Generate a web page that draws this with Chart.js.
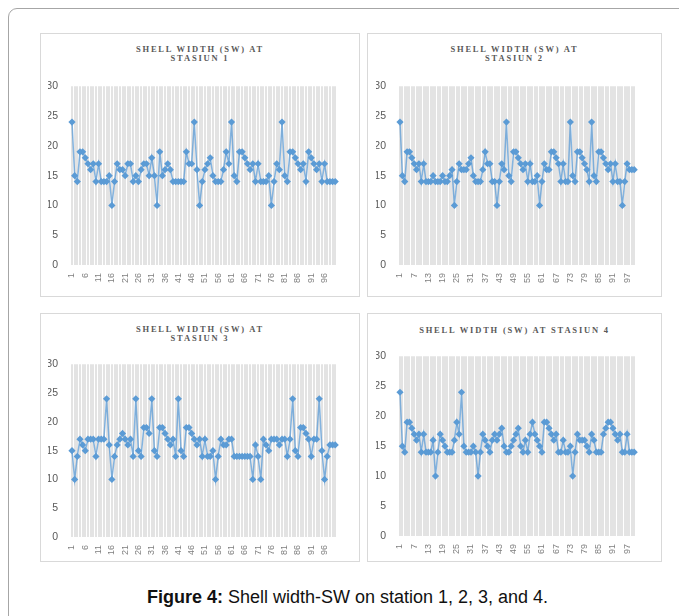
<!DOCTYPE html>
<html>
<head>
<meta charset="utf-8">
<script src="https://cdn.jsdelivr.net/npm/chart.js@4"></script>
<style>
  body { margin: 0; width: 679px; height: 616px; background: #fff; position: relative; overflow: hidden; font-family: "Liberation Sans", Arial, sans-serif; }
  .frame { position: absolute; left: 8px; top: 8px; width: 700px; height: 640px; border: 1px solid #a6a6a6; border-radius: 9px; }
  .panel { position: absolute; border: 1px solid #d9d9d9; background: #fff; }
  .title { position: absolute; left: 0; right: 0; text-align: center; font-family: "Liberation Serif", "DejaVu Serif", serif; font-size: 8.5px; line-height: 9px; letter-spacing: 1.8px; color: #595959; font-weight: bold; }
  canvas { position: absolute; }
  .caption { position: absolute; left: 0; width: 695px; top: 587px; text-align: center; font-size: 18px; color: #111; }
</style>
</head>
<body>
<div class="frame"></div>

<div class="panel" style="left:40px;top:33px;width:318px;height:262px;"><div class="title" style="top:11px;">SHELL WIDTH (SW) AT<br>STASIUN 1</div></div>
<div class="panel" style="left:367px;top:33px;width:293px;height:262px;"><div class="title" style="top:11px;">SHELL WIDTH (SW) AT<br>STASIUN 2</div></div>
<div class="panel" style="left:40px;top:313px;width:318px;height:247px;"><div class="title" style="top:11px;">SHELL WIDTH (SW) AT<br>STASIUN 3</div></div>
<div class="panel" style="left:367px;top:313px;width:293px;height:247px;"><div class="title" style="top:12px;">SHELL WIDTH (SW) AT STASIUN 4</div></div>

<canvas id="c1" style="left:44px;top:74px;" width="310" height="221"></canvas>
<canvas id="c2" style="left:372px;top:74px;" width="281" height="221"></canvas>
<canvas id="c3" style="left:44px;top:352px;" width="310" height="215"></canvas>
<canvas id="c4" style="left:372px;top:344px;" width="281" height="222"></canvas>

<div class="caption"><b>Figure 4:</b> Shell width-SW on station 1, 2, 3, and 4.</div>

<script>
const stasiun1 = [24,15,14,19,19,18,17,16,17,14,17,14,14,14,15,10,14,17,16,16,15,17,17,14,15,14,16,17,17,15,18,15,10,19,15,16,17,16,14,14,14,14,14,19,17,17,24,16,10,14,16,17,18,15,14,14,14,16,19,17,24,15,14,19,19,18,17,16,17,14,17,14,14,14,15,10,14,17,16,24,15,14,19,19,18,17,16,17,14,19,18,17,16,17,14,17,14,14,14,14];
const stasiun2 = [24,15,14,19,19,18,17,16,17,14,17,14,14,14,15,14,14,14,15,14,14,15,16,10,14,17,16,16,16,17,18,15,14,14,14,16,19,17,17,14,14,10,14,17,16,24,15,14,19,19,18,17,16,17,14,17,14,14,15,10,14,17,16,16,19,19,18,17,14,17,14,14,24,15,14,19,19,18,17,16,14,24,15,14,19,19,18,17,16,17,14,17,14,14,10,14,17,16,16,16];
const stasiun3 = [15,10,14,17,16,15,17,17,17,14,17,17,17,24,16,10,14,16,17,18,17,16,17,14,24,15,14,19,19,18,24,15,14,19,19,18,17,16,17,14,24,15,14,19,19,18,17,16,17,14,17,14,14,15,10,14,17,16,16,17,17,14,14,14,14,14,14,14,10,16,14,10,17,16,15,17,17,17,16,17,17,14,17,24,15,14,19,19,18,17,14,17,17,24,15,10,14,16,16,16];
const stasiun4 = [24,15,14,19,19,18,17,16,17,14,17,14,14,14,16,10,14,17,16,15,14,14,14,16,19,17,24,15,14,14,14,15,14,10,14,17,16,15,14,16,17,16,17,18,15,14,14,15,16,17,18,15,14,16,14,17,19,17,16,15,14,19,19,18,17,16,17,14,14,16,14,14,15,10,14,17,16,16,16,15,14,17,16,14,14,14,17,18,19,19,18,17,16,17,14,14,17,14,14,14];
const yTicks = [0, 5, 10, 15, 20, 25, 30];

function makeLabels(n) {
  const labels = [];
  for (let i = 1; i <= n; i++) labels.push(String(i));
  return labels;
}

function drawPanel(id, values, step) {
  const ctx = document.getElementById(id).getContext('2d');
  return new Chart(ctx, {
    type: 'line',
    data: {
      labels: makeLabels(values.length),
      datasets: [{
        data: values,
        borderColor: 'rgba(91,155,213,0.75)',
        borderWidth: 1.5,
        backgroundColor: '#5b9bd5',
        pointStyle: 'rectRot',
        pointRadius: 3.6,
        pointBorderWidth: 0,
        pointBackgroundColor: '#5b9bd5',
        tension: 0,
      }],
    },
    options: {
      responsive: false,
      animation: false,
      layout: { padding: { left: 4, right: 8, top: 8, bottom: 0 } },
      plugins: { legend: { display: false }, tooltip: { enabled: false } },
      scales: {
        x: {
          offset: false,
          grid: { color: '#e3e3e3', lineWidth: 2, drawTicks: false },
          border: { display: false },
          ticks: {
            autoSkip: false,
            maxRotation: 90,
            minRotation: 90,
            padding: 8,
            color: '#7f7f7f',
            font: { family: 'Liberation Sans', size: 9 },
            callback: (v, i) => (i % step === 0 ? String(i + 1) : ''),
          },
          afterFit: s => { s.height = 30; },
        },
        y: {
          min: 0,
          max: 30,
          afterBuildTicks: s => { s.ticks = yTicks.map(v => ({ value: v })); },
          grid: { display: false },
          border: { display: false },
          ticks: { color: '#595959', padding: 6, font: { family: 'Liberation Sans', size: 10.5 } },
          afterFit: s => { s.width = 24; },
        },
      },
    },
  });
}

drawPanel('c1', stasiun1, 5);
drawPanel('c2', stasiun2, 6);
drawPanel('c3', stasiun3, 5);
drawPanel('c4', stasiun4, 6);
</script>
</body>
</html>
